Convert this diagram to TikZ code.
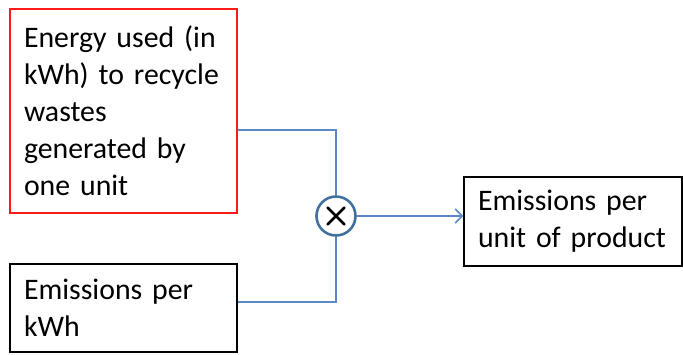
\documentclass[tikz,border=0pt]{standalone}
\usepackage{fontspec}
\setmainfont{Carlito}
\usetikzlibrary{arrows.meta,calc}
\definecolor{linkblue}{HTML}{5B87C5}
\definecolor{ringblue}{HTML}{41719C}
\definecolor{boxred}{HTML}{FF1A1A}
\newcommand{\oneline}[1]{\mbox{#1}}
\begin{document}
\begin{tikzpicture}[x=1pt,y=-1pt,
  txt/.style={font=\fontsize{29.8}{37}\selectfont, align=left, inner xsep=14pt, inner ysep=0pt},
  box/.style={txt, draw=black, line width=1.4pt, rectangle},
  redbox/.style={txt, draw=boxred, line width=1.8pt, rectangle},
  conn/.style={draw=linkblue, line width=1.5pt},
  mulnode/.style={circle, draw=ringblue, line width=2.6pt, minimum size=39pt, inner sep=0pt,
    path picture={
      \draw[black, line width=2.6pt, line cap=round]
        ($(path picture bounding box.center)+(-8.5,-8.5)$) -- ($(path picture bounding box.center)+(8.5,8.5)$)
        ($(path picture bounding box.center)+(-8.5,8.5)$) -- ($(path picture bounding box.center)+(8.5,-8.5)$);
    }}
]
\useasboundingbox (0,0) rectangle (683,354);

\node[redbox, minimum width=227pt, minimum height=204pt, text width=199pt] (energy) at (123.5,111)
  {\oneline{Energy used (in}\\\oneline{kWh) to recycle}\\\oneline{wastes}\\\oneline{generated by}\\\oneline{one unit}};
\node[box, minimum width=227pt, minimum height=88pt, text width=199pt] (perkwh) at (123.5,308)
  {\oneline{Emissions per}\\\oneline{kWh}};
\node[box, minimum width=218pt, minimum height=89pt, text width=190pt] (result) at (573,221.5)
  {\oneline{Emissions per}\\\oneline{unit of product}};
\node[mulnode] (mult) at (336,216) {};

\draw[conn] ([yshift=-19pt]energy.east) -| (mult.north);
\draw[conn] ([yshift=6pt]perkwh.east) -| (mult.south);
\draw[conn, -{Straight Barb[length=7pt,width=14pt,line width=1.5pt]}] (mult.east) -- (mult.east -| result.west);
\end{tikzpicture}
\end{document}
